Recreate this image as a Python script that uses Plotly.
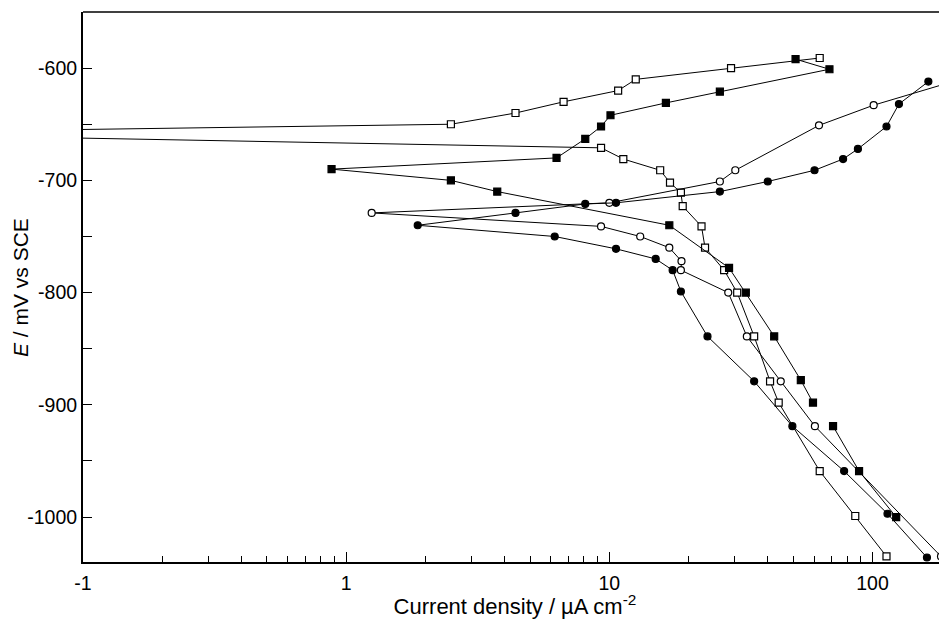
import plotly.graph_objects as go

# Open squares
os_i = [113, 86, 63, 44, 40.8, 35.5, 30.6, 27.3, 23.1, 22.4, 19.0, 18.7, 17.0, 15.6, 11.3, 9.3, 0.01, 2.5, 4.4, 6.7, 10.8, 12.6, 29, 63]
os_E = [-1035, -999, -959, -898, -879, -839, -800, -780, -760, -741, -723, -711, -702, -691, -681, -671, -658, -650, -640, -630, -620, -610, -600, -591]

# Filled squares
fs_i = [123, 88.9, 70.8, None, 59.4, 53.4, 42.3, 33.0, 28.5, 16.9, 3.75, 2.5, 0.88, 6.3, 8.1, 9.3, 10.1, 16.4, 26.3, 68.6, 51]
fs_E = [-1000, -959, -919, None, -898, -878, -839, -800, -778, -740, -710, -700, -690, -680, -663, -652, -642, -631, -621, -601, -592]

# Open circles
oc_i = [182, 60.4, 44.8, 33.3, 28.3, 18.7, 18.8, 16.9, 13.1, 9.3, 1.25, 10.0, 26.3, 30.1, 62.6, 101, 300]
oc_E = [-1035, -919, -879, -839, -800, -780, -772, -760, -750, -741, -729, -720, -701, -691, -651, -633, -600]

# Filled circles
fc_i = [161, 114, 78, 49.6, 35.5, 23.6, 18.7, 17.4, 15.0, 10.6, 6.2, 1.87, 4.4, 8.1, 10.6, 26.3, 40, 60.2, 77.3, 88, 113, 126, 163]
fc_E = [-1036, -997, -959, -919, -879, -839, -799, -780, -770, -761, -750, -740, -729, -721, -720, -710, -701, -691, -681, -672, -652, -632, -612]

x_tickvals = [0.1, 1, 10, 100]
x_ticktext = ["-1", "1", "10", "100"]
x_minor = [m * d for d in (0.1, 1, 10, 100) for m in range(2, 10)]
y_tickvals = [-1000, -900, -800, -700, -600]
y_ticktext = ["-1000", "-900", "-800", "-700", "-600"]
y_minor = [-1050, -950, -850, -750, -650, -550]

series = [
    (os_i, os_E, "square", "white"),
    (fs_i, fs_E, "square", "black"),
    (oc_i, oc_E, "circle", "white"),
    (fc_i, fc_E, "circle", "black"),
]

fig = go.Figure()
for xs, ys, sym, fill in series:
    fig.add_trace(go.Scatter(
        x=xs, y=ys, mode="lines+markers", connectgaps=False,
        line=dict(color="black", width=1),
        marker=dict(symbol=sym, size=7, color=fill, line=dict(color="black", width=1.2)),
        showlegend=False,
    ))

font = "Liberation Sans, Arial, sans-serif"
# page body adds an 8px margin, so the figure is sized/placed 8px smaller
fig.update_layout(
    width=939, height=611,
    margin=dict(l=75, r=0, t=4, b=57),
    paper_bgcolor="white", plot_bgcolor="white",
    font=dict(family=font, color="black", size=19.5),
    xaxis=dict(
        type="log", range=[-1, 2.283],
        showline=True, linecolor="black", linewidth=2,
        showgrid=False, zeroline=False,
        ticks="inside", ticklen=10, tickwidth=1.2, tickcolor="black",
        tickmode="array", tickvals=x_tickvals, ticktext=x_ticktext,
        ticklabelstandoff=3,
        minor=dict(tickmode="array", tickvals=x_minor, ticks="inside", ticklen=6,
                   tickwidth=1, tickcolor="black", showgrid=False),
        title=dict(text="Current density / µA cm<sup>-2</sup>", font=dict(size=22), standoff=9),
    ),
    yaxis=dict(
        range=[-1040, -550],
        showline=True, linecolor="black", linewidth=2,
        showgrid=False, zeroline=False,
        ticks="inside", ticklen=9, tickwidth=1.2, tickcolor="black",
        tickmode="array", tickvals=y_tickvals, ticktext=y_ticktext,
        ticklabelstandoff=0,
        minor=dict(tickmode="array", tickvals=y_minor, ticks="inside", ticklen=9,
                   tickwidth=1.2, tickcolor="black", showgrid=False),
    ),
    shapes=[dict(type="line", xref="paper", yref="paper", x0=0, x1=1, y0=1, y1=1,
                 line=dict(color="black", width=1.4))],
    annotations=[dict(
        text="<i>E</i> / mV vs SCE", textangle=-90, showarrow=False,
        xref="paper", yref="paper", x=(12 - 75) / 864, y=0.5,
        xanchor="center", yanchor="middle", font=dict(size=21),
    )],
)

fig.write_html("out.html")
